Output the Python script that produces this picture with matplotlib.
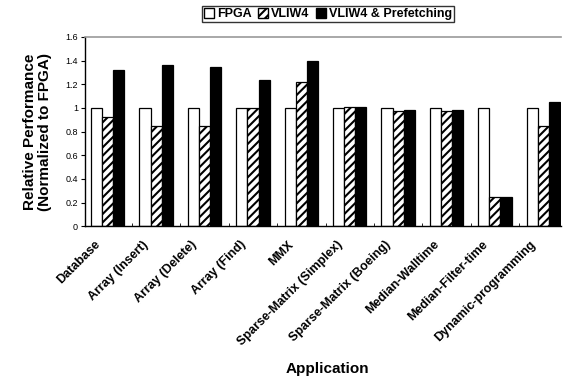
import matplotlib.pyplot as plt
import numpy as np
from matplotlib.patches import Patch

plt.rcParams['font.family'] = ['Liberation Sans', 'DejaVu Sans']
plt.rcParams['hatch.linewidth'] = 1.5

apps = ['Database', 'Array (Insert)', 'Array (Delete)', 'Array (Find)', 'MMX',
        'Sparse-Matrix (Simplex)', 'Sparse-Matrix (Boeing)', 'Median-Walltime',
        'Median-Filter-time', 'Dynamic-programming']
fpga = [1.0, 1.0, 1.0, 1.0, 1.0, 1.0, 1.0, 1.0, 1.0, 1.0]
vliw4 = [0.92, 0.85, 0.85, 1.0, 1.22, 1.01, 0.97, 0.97, 0.25, 0.85]
vliw4_pref = [1.32, 1.36, 1.35, 1.24, 1.40, 1.01, 0.98, 0.98, 0.25, 1.05]

fig = plt.figure(figsize=(5.63, 3.77), dpi=100)
ax = fig.add_axes([0.151, 0.40, 0.845, 0.502])

x = np.arange(len(apps))
w = 0.23
ax.bar(x - w, fpga, w, color='white', edgecolor='black', linewidth=0.9)
ax.bar(x, vliw4, w, color='white', edgecolor='black', hatch='////', linewidth=0.9)
ax.bar(x + w, vliw4_pref, w, color='black', edgecolor='black', linewidth=0.9)

ax.set_xlim(-0.47, 9.36)
ax.set_ylim(0, 1.6)
ax.set_yticks([0, 0.2, 0.4, 0.6, 0.8, 1.0, 1.2, 1.4, 1.6])
ax.set_yticklabels(['0', '0.2', '0.4', '0.6', '0.8', '1', '1.2', '1.4', '1.6'])
ax.tick_params(axis='y', labelsize=6.5, length=3, width=0.8, direction='out', pad=2)

# label anchors sit a little left of each group centre, like the original
ax.set_xticks(x[:-1] + 0.5, minor=True)
ax.set_xticks(x - 0.28)
ax.set_xticklabels(apps, rotation=45, ha='right', rotation_mode='anchor',
                   fontsize=9, fontweight='bold')
ax.tick_params(axis='x', which='major', length=0, pad=9)
ax.tick_params(axis='x', which='minor', length=2, width=0.6, direction='in')

ax.spines['right'].set_visible(False)
ax.spines['top'].set_color('#999999')
ax.spines['top'].set_linewidth(1.2)
ax.spines['left'].set_linewidth(1.0)
ax.spines['bottom'].set_linewidth(1.0)

ax.set_ylabel('Relative Performance\n(Normalized to FPGA)', fontsize=11,
              fontweight='bold', labelpad=10, linespacing=1.05)
ax.set_xlabel('Application', fontsize=11, fontweight='bold')
ax.xaxis.set_label_coords(0.51, -0.72)

handles = [Patch(facecolor='white', edgecolor='black', label='FPGA'),
           Patch(facecolor='white', edgecolor='black', hatch='////', label='VLIW4'),
           Patch(facecolor='black', edgecolor='black', label='VLIW4 & Prefetching')]
leg = fig.legend(handles=handles, loc='center', bbox_to_anchor=(0.583, 0.962), ncol=3,
                 prop={'weight': 'bold', 'size': 9}, frameon=True,
                 fancybox=False, handlelength=0.8, handleheight=0.8,
                 handletextpad=0.25, columnspacing=0.5, borderpad=0.15,
                 borderaxespad=0)
leg.get_frame().set_edgecolor('black')
leg.get_frame().set_linewidth(1.0)

fig.savefig('out.png', dpi=100)
